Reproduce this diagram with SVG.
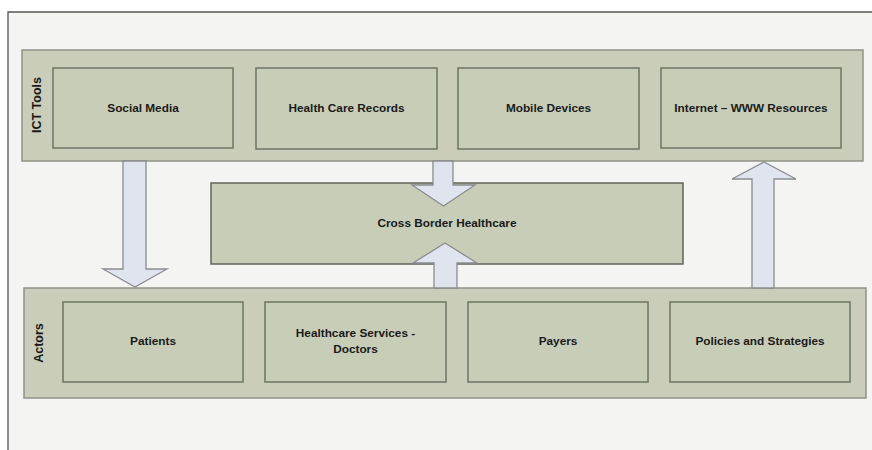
<svg xmlns="http://www.w3.org/2000/svg" width="872" height="450" viewBox="0 0 872 450">
<style>
.bg{fill:#f4f4f3}
.frame{fill:none;stroke:#555;stroke-width:1.3}
.cont{fill:#c9cdb9;stroke:#8e9286;stroke-width:1.5}
.box{fill:#c8cdb8;stroke:#6e7465;stroke-width:1.5}
.arr{fill:#dfe4ee;stroke:#8a8c8e;stroke-width:1.3;stroke-linejoin:miter}
text{font-family:"Liberation Sans",Arial,sans-serif;font-weight:bold;font-size:11.8px;fill:#1a1a1a;text-anchor:middle;dominant-baseline:central}
.side{font-size:12.5px}
</style>
<rect x="0" y="0" width="872" height="450" fill="#ffffff"/>
<rect class="bg" x="8" y="12" width="864" height="438"/>
<path class="frame" d="M8,450 V12 H872"/>

<g id="ict-tools">
<rect class="cont" x="22" y="50" width="841" height="111"/>
<text class="side" transform="translate(37,105) rotate(-90)">ICT Tools</text>
</g>
<g id="social-media"><rect class="box" x="53" y="68" width="180" height="80"/><text x="143" y="108">Social Media</text></g>
<g id="health-care-records"><rect class="box" x="256" y="68" width="181" height="81"/><text x="346.5" y="108">Health Care Records</text></g>
<g id="mobile-devices"><rect class="box" x="458" y="68" width="181" height="81"/><text x="548.5" y="108">Mobile Devices</text></g>
<g id="internet-www"><rect class="box" x="661" y="68" width="180" height="80"/><text x="751" y="108">Internet – WWW Resources</text></g>

<g id="actors">
<rect class="cont" x="24" y="288" width="842" height="110"/>
<text class="side" transform="translate(39,343) rotate(-90)">Actors</text>
</g>
<g id="patients"><rect class="box" x="63" y="302" width="180" height="80"/><text x="153" y="341">Patients</text></g>
<g id="healthcare-services"><rect class="box" x="265" y="302" width="181" height="80"/><text x="355.5" y="333">Healthcare Services -</text><text x="355.5" y="349">Doctors</text></g>
<g id="payers"><rect class="box" x="468" y="302" width="180" height="80"/><text x="558" y="341">Payers</text></g>
<g id="policies"><rect class="box" x="670" y="302" width="180" height="80"/><text x="760" y="341">Policies and Strategies</text></g>

<g id="cross-border">
<rect class="box" x="211" y="183" width="472" height="81" style="stroke:#5f6459"/>
<text x="447" y="223">Cross Border Healthcare</text>
</g>

<g id="connectors">
<polygon class="arr" points="123,161 146,161 146,269 167,269 135,287 103,269 123,269"/>
<polygon class="arr" points="433,161 453,161 453,185 475,185 443.5,206 412,185 433,185"/>
<polygon class="arr" points="434,288 457,288 457,263 477,263 445,243 413,263 434,263"/>
<polygon class="arr" points="752,288 774,288 774,179 796,179 764,162 732,179 752,179"/>
</g>
</svg>
